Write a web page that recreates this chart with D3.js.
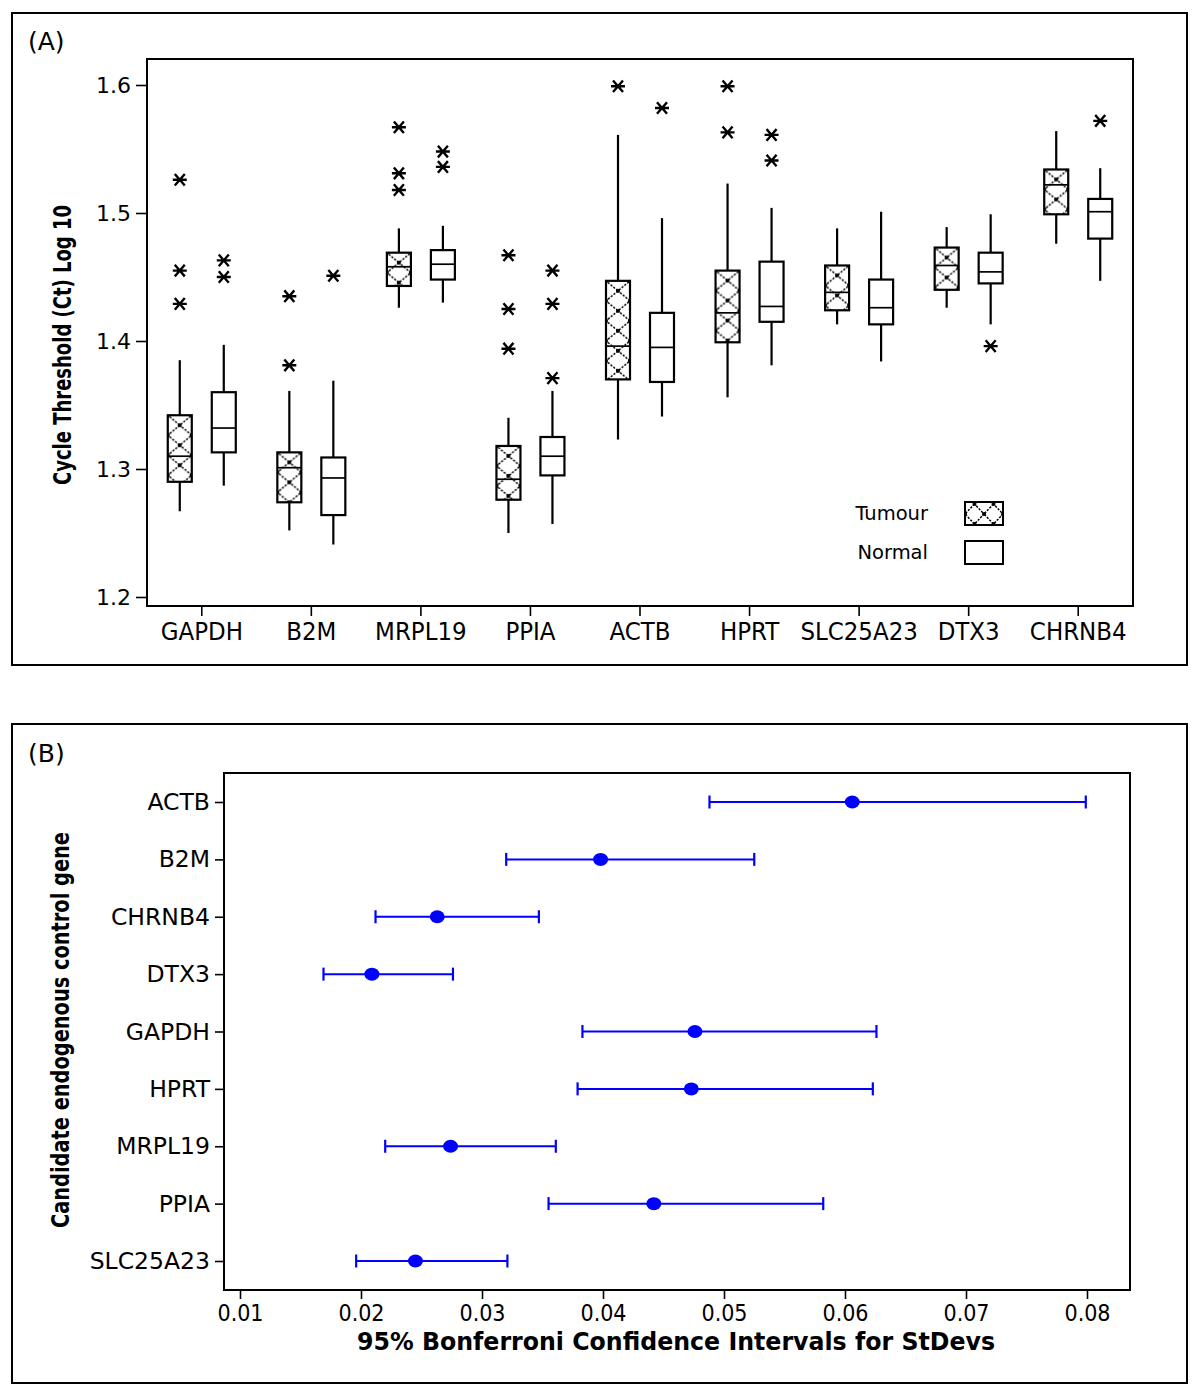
<!DOCTYPE html>
<html><head><meta charset="utf-8">
<script src="https://cdn.jsdelivr.net/npm/d3@7"></script>
<style>body{margin:0;background:#fff} svg{display:block}</style>
</head><body>
<svg id="c" width="1200" height="1396"></svg>
<script>
// ---------- Panel A data ----------
const genesA = ["GAPDH","B2M","MRPL19","PPIA","ACTB","HPRT","SLC25A23","DTX3","CHRNB4"];
// [lower whisker, Q1, median, Q3, upper whisker]
const tumourBoxes = [
  [1.267,1.290,1.310,1.342,1.385],
  [1.252,1.274,1.301,1.313,1.361],
  [1.426,1.443,1.458,1.469,1.488],
  [1.250,1.276,1.292,1.318,1.340],
  [1.323,1.370,1.396,1.447,1.561],
  [1.356,1.399,1.422,1.455,1.523],
  [1.413,1.424,1.438,1.459,1.488],
  [1.426,1.440,1.459,1.473,1.489],
  [1.476,1.499,1.522,1.534,1.564]
];
const normalBoxes = [
  [1.287,1.313,1.332,1.360,1.397],
  [1.241,1.264,1.293,1.309,1.369],
  [1.430,1.448,1.460,1.471,1.490],
  [1.257,1.295,1.310,1.325,1.361],
  [1.341,1.368,1.395,1.422,1.496],
  [1.381,1.415,1.427,1.462,1.504],
  [1.384,1.413,1.426,1.448,1.501],
  [1.413,1.445,1.454,1.469,1.499],
  [1.447,1.480,1.501,1.511,1.535]
];
const tumourOutliers = [[1.526,1.455,1.429],[1.435,1.381],[1.567,1.531,1.518],[1.467,1.425,1.394],[1.599],[1.599,1.563],[],[],[]];
const normalOutliers = [[1.463,1.450],[1.451],[1.548,1.536],[1.455,1.429,1.371],[1.582],[1.561,1.541],[],[1.396],[1.572]];
const yTicksA = [1.2,1.3,1.4,1.5,1.6];
const groupsA = ["Tumour","Normal"];

// ---------- Panel B data ----------
const genesB = ["ACTB","B2M","CHRNB4","DTX3","GAPDH","HPRT","MRPL19","PPIA","SLC25A23"];
const ciLower    = [0.0488,0.0320,0.0212,0.0169,0.0383,0.0379,0.0220,0.0355,0.0196];
const ciEstimate = [0.0606,0.0398,0.0263,0.0209,0.0476,0.0473,0.0274,0.0442,0.0245];
const ciUpper    = [0.0799,0.0525,0.0347,0.0276,0.0626,0.0623,0.0361,0.0582,0.0321];
const xTicksB = [0.01,0.02,0.03,0.04,0.05,0.06,0.07,0.08];

const svg = d3.select("#c");
const defs = svg.append("defs");
const REG = "'DejaVu Sans', Verdana, sans-serif";
const COND = "'DejaVu Sans Condensed', 'DejaVu Sans', sans-serif";

// outer frames
svg.append("rect").attr("x",12).attr("y",13).attr("width",1175).attr("height",652)
  .attr("fill","none").attr("stroke","#000").attr("stroke-width",2);
svg.append("rect").attr("x",12).attr("y",724).attr("width",1175).attr("height",659)
  .attr("fill","none").attr("stroke","#000").attr("stroke-width",2);
svg.append("text").attr("x",28).attr("y",50).attr("font-family",REG).attr("font-size",25).text("(A)");
svg.append("text").attr("x",28).attr("y",762).attr("font-family",REG).attr("font-size",25).text("(B)");

// ---------- Panel A ----------
const A = {l:147, r:1133, t:59, b:606};
const xA = d3.scaleBand().domain(genesA).range([A.l, A.r]);
const yA = d3.scaleLinear().domain([1.2,1.6]).range([597,85]);
const off = {Tumour:-22, Normal:22};
const boxW = 24;

let pid = 0;
function hatch(x0, y0, w){
  const id = "h"+(pid++);
  const p = defs.append("pattern").attr("id",id).attr("patternUnits","userSpaceOnUse")
    .attr("x",x0).attr("y",y0).attr("width",w).attr("height",20);
  p.append("rect").attr("width",w).attr("height",20).attr("fill","#fff");
  p.append("path").attr("d",`M${w/2},0L0,10L${w/2},20L${w},10Z`)
    .attr("fill","none").attr("stroke","#000").attr("stroke-width",1.5).attr("stroke-dasharray","2.2,1.4");
  [[w/2,0],[w/2,20],[0,10],[w,10]].forEach(([cx,cy])=>
    p.append("rect").attr("x",cx-1.8).attr("y",cy-1.8).attr("width",3.6).attr("height",3.6).attr("fill","#000"));
  return `url(#${id})`;
}

const gA = svg.append("g");
function drawBox(gene, stats, group){
  const cx = xA(gene) + xA.bandwidth()/2 + off[group];
  const [lo,q1,md,q3,hi] = stats;
  gA.append("line").attr("x1",cx).attr("x2",cx).attr("y1",yA(hi)).attr("y2",yA(q3)).attr("stroke","#000").attr("stroke-width",2.2);
  gA.append("line").attr("x1",cx).attr("x2",cx).attr("y1",yA(q1)).attr("y2",yA(lo)).attr("stroke","#000").attr("stroke-width",2.2);
  const fill = group==="Tumour" ? hatch(cx-boxW/2, yA(q3)+10, boxW) : "#fff";
  gA.append("rect").attr("x",cx-boxW/2).attr("y",yA(q3)).attr("width",boxW).attr("height",yA(q1)-yA(q3))
    .attr("fill",fill).attr("stroke","#000").attr("stroke-width",2.2);
  gA.append("line").attr("x1",cx-boxW/2).attr("x2",cx+boxW/2).attr("y1",yA(md)).attr("y2",yA(md)).attr("stroke","#000").attr("stroke-width",1.7);
}
const star = "M-7,0H7M-5,-5.8L5,5.8M-5,5.8L5,-5.8";
function drawOutliers(gene, vals, group){
  const cx = xA(gene) + xA.bandwidth()/2 + off[group];
  gA.selectAll(null).data(vals).enter().append("path")
    .attr("d",star).attr("transform",d=>`translate(${cx},${yA(d)})`)
    .attr("fill","none").attr("stroke","#000").attr("stroke-width",2.4);
}
genesA.forEach((g,i)=>{
  drawBox(g, tumourBoxes[i], "Tumour");
  drawBox(g, normalBoxes[i], "Normal");
  drawOutliers(g, tumourOutliers[i], "Tumour");
  drawOutliers(g, normalOutliers[i], "Normal");
});

svg.append("rect").attr("x",A.l).attr("y",A.t).attr("width",A.r-A.l).attr("height",A.b-A.t)
  .attr("fill","none").attr("stroke","#000").attr("stroke-width",2);

const axLA = svg.append("g").attr("transform",`translate(${A.l},0)`)
  .call(d3.axisLeft(yA).tickValues(yTicksA).tickFormat(d3.format(".1f")).tickSize(11).tickPadding(5));
axLA.select(".domain").remove();
axLA.selectAll("line").attr("stroke","#000").attr("stroke-width",1.6);
axLA.selectAll("text").attr("font-family",REG).attr("font-size",22).attr("fill","#000");

const axBA = svg.append("g").attr("transform",`translate(0,${A.b})`)
  .call(d3.axisBottom(xA).tickSize(10).tickPadding(6));
axBA.select(".domain").remove();
axBA.selectAll("line").attr("stroke","#000").attr("stroke-width",1.6);
axBA.selectAll("text").attr("font-family",COND).attr("font-size",25.5).attr("fill","#000");

svg.append("text").attr("transform","translate(71,345) rotate(-90)").attr("text-anchor","middle")
  .attr("font-family",COND).attr("font-weight","bold").attr("font-size",24)
  .attr("textLength",280).attr("lengthAdjust","spacingAndGlyphs")
  .text("Cycle Threshold (Ct) Log 10");

// legend
const leg = svg.append("g");
groupsA.forEach((gname,i)=>{
  const by = 502 + i*39;
  leg.append("text").attr("x",928).attr("y",by+18).attr("text-anchor","end")
    .attr("font-family",REG).attr("font-size",19.5).text(gname);
  leg.append("rect").attr("x",965).attr("y",by).attr("width",38).attr("height",23)
    .attr("fill", gname==="Tumour" ? hatch(965, by+2, 19) : "#fff")
    .attr("stroke","#000").attr("stroke-width",2);
});

// ---------- Panel B ----------
const B = {l:224, r:1130, t:773, b:1290};
const xB = d3.scaleLinear().domain([0.01,0.08]).range([240,1087]);
const yB = d3.scalePoint().domain(genesB).range([802,1261]);
const blue = "#0000ff";
const gB = svg.append("g");
genesB.forEach((g,i)=>{
  const y = yB(g);
  gB.append("line").attr("x1",xB(ciLower[i])).attr("x2",xB(ciUpper[i])).attr("y1",y).attr("y2",y)
    .attr("stroke",blue).attr("stroke-width",2);
  [ciLower[i],ciUpper[i]].forEach(v=>gB.append("line").attr("x1",xB(v)).attr("x2",xB(v))
    .attr("y1",y-6.5).attr("y2",y+6.5).attr("stroke",blue).attr("stroke-width",2.2));
  gB.append("ellipse").attr("cx",xB(ciEstimate[i])).attr("cy",y).attr("rx",7.5).attr("ry",6.5).attr("fill",blue);
});
svg.append("rect").attr("x",B.l).attr("y",B.t).attr("width",B.r-B.l).attr("height",B.b-B.t)
  .attr("fill","none").attr("stroke","#000").attr("stroke-width",2);

const axLB = svg.append("g").attr("transform",`translate(${B.l},0)`)
  .call(d3.axisLeft(yB).tickSize(9).tickPadding(5));
axLB.select(".domain").remove();
axLB.selectAll("line").attr("stroke","#000").attr("stroke-width",1.6);
axLB.selectAll("text").attr("font-family",REG).attr("font-size",23.5).attr("fill","#000");

const axBB = svg.append("g").attr("transform",`translate(0,${B.b})`)
  .call(d3.axisBottom(xB).tickValues(xTicksB).tickFormat(d3.format(".2f")).tickSize(9).tickPadding(6));
axBB.select(".domain").remove();
axBB.selectAll("line").attr("stroke","#000").attr("stroke-width",1.6);
axBB.selectAll("text").attr("font-family",COND).attr("font-size",23).attr("fill","#000");

svg.append("text").attr("x",676).attr("y",1350).attr("text-anchor","middle")
  .attr("font-family",COND).attr("font-weight","bold").attr("font-size",24)
  .attr("textLength",638).attr("lengthAdjust","spacingAndGlyphs")
  .text("95% Bonferroni Confidence Intervals for StDevs");
svg.append("text").attr("transform","translate(69,1030) rotate(-90)").attr("text-anchor","middle")
  .attr("font-family",COND).attr("font-weight","bold").attr("font-size",25)
  .attr("textLength",396).attr("lengthAdjust","spacingAndGlyphs")
  .text("Candidate endogenous control gene");
</script>
</body></html>
